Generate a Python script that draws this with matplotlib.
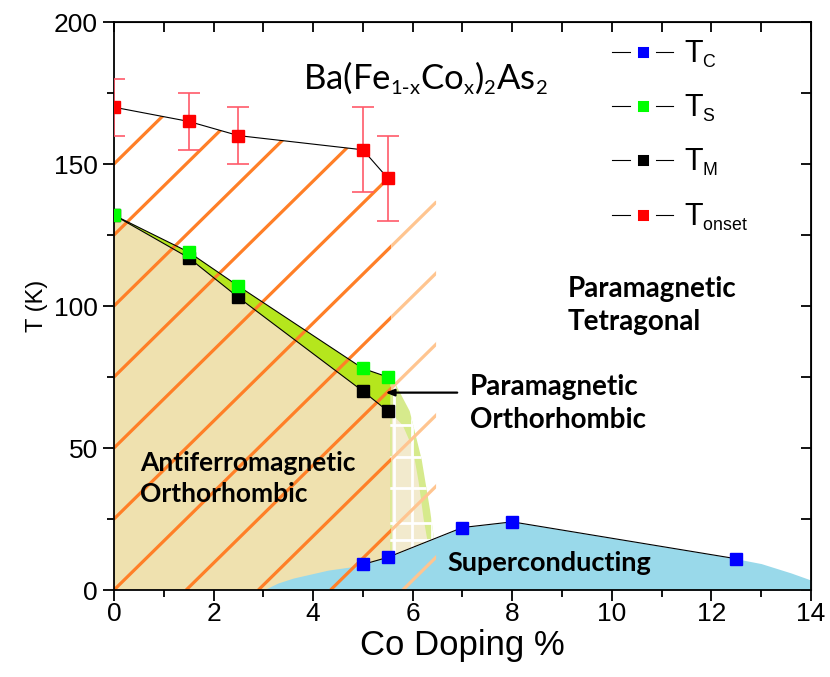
import numpy as np
import matplotlib
matplotlib.use('Agg')
import matplotlib.pyplot as plt
import matplotlib._mathtext as mathtext_mod
from matplotlib.patches import Polygon
from matplotlib.lines import Line2D

plt.rcParams['font.family'] = 'Liberation Sans'
plt.rcParams['mathtext.default'] = 'regular'
mathtext_mod.SHRINK_FACTOR = 0.58  # smaller subscripts, as in the original

# measured transition temperatures (K) vs Co doping (%)
x_onset = [0, 1.5, 2.5, 5, 5.5]
t_onset = [170, 165, 160, 155, 145]
err_onset = [10, 10, 10, 15, 15]

x_s = [0, 1.5, 2.5, 5, 5.5]
t_s = [132, 119, 107, 78, 75]

x_m = [0, 1.5, 2.5, 5, 5.5]
t_m = [132, 117, 103, 70, 63]

x_c = [5, 5.5, 7, 8, 12.5]
t_c = [9, 11.5, 22, 24, 11]

# outlines of the shaded regions
sc_left_x = [3.0, 3.3, 3.6, 4.3, 4.9]
sc_left_y = [0, 2.5, 4.2, 7, 8.5]
sc_right_x = [13.0, 13.6, 14.0]
sc_right_y = [9.3, 6.0, 3.5]

tail_x = [5.55, 5.64, 5.94, 6.18, 6.35, 6.42]
tail_y = [75, 73, 63, 46, 28, 19]
tail_inner_x = [5.58, 5.8, 6.0, 6.12, 6.22, 6.3]
tail_inner_y = [62, 58, 50, 38, 25, 17]
grid_vx = [5.62, 5.98, 6.38]
grid_hy = [58, 47, 36, 23.6, 17.6]

afm_edge = 5.57
light_edge = 6.47
light_top = 137

c_tan = '#EFE1AF'
c_green = '#B5E61D'
c_lgreen = '#D6EA8C'
c_ltan = '#F2EACD'
c_blue = '#99D9EA'
c_orange = '#FF7F27'
c_lorange = '#FFC590'

fig = plt.figure(figsize=(8.3, 6.77), dpi=100)
ax = fig.add_axes([0.1373, 0.1285, 0.8398, 0.839])
ax.set_xlim(0, 14)
ax.set_ylim(0, 200)

# antiferromagnetic orthorhombic
afm = list(zip(x_m, t_m)) + [(afm_edge, t_m[-1]), (afm_edge, 0), (0, 0)]
ax.add_patch(Polygon(afm, closed=True, fc=c_tan, ec='none', zorder=1))
# paramagnetic orthorhombic band
band = list(zip(x_s, t_s)) + [(afm_edge, t_s[-1]), (afm_edge, t_m[-1])] + list(zip(x_m[::-1], t_m[::-1]))
ax.add_patch(Polygon(band, closed=True, fc=c_green, ec='none', zorder=1))

# tail region right of the last sample
tc_line = lambda xx: np.interp(xx, x_c, t_c)
bx = np.linspace(tail_x[-1], tail_x[0], 10)
tail = list(zip(tail_x, tail_y)) + list(zip(bx, tc_line(bx)))
tail_patch = Polygon(tail, closed=True, fc=c_lgreen, ec='none', zorder=1.1)
ax.add_patch(tail_patch)
bx2 = np.linspace(tail_inner_x[-1], tail_inner_x[0], 10)
inner = list(zip(tail_inner_x, tail_inner_y)) + list(zip(bx2, tc_line(bx2)))
ax.add_patch(Polygon(inner, closed=True, fc=c_ltan, ec='none', zorder=1.15))
for gx in grid_vx:
    ln, = ax.plot([gx, gx], [0, 100], color='white', lw=2, zorder=1.2)
    ln.set_clip_path(tail_patch)
for gy in grid_hy:
    ln, = ax.plot([5.4, 6.6], [gy, gy], color='white', lw=2, zorder=1.2)
    ln.set_clip_path(tail_patch)

# superconducting dome
sc_x = [sc_left_x[0]] + sc_left_x + x_c + sc_right_x
sc_y = [0] + sc_left_y + t_c + sc_right_y
ax.fill_between(sc_x, sc_y, 0, color=c_blue, lw=0, zorder=1.3)

# diagonal hatching
dark_reg = [(0, 0)] + list(zip(x_onset, t_onset)) + [(afm_edge, t_onset[-1]), (afm_edge, 0)]
light_reg = [(afm_edge, 0), (afm_edge, t_onset[-1]), (light_edge, light_top), (light_edge, 0)]
dark_clip = Polygon(dark_reg, closed=True, fc='none', ec='none')
light_clip = Polygon(light_reg, closed=True, fc='none', ec='none')
ax.add_patch(dark_clip)
ax.add_patch(light_clip)
step = 1.45
slope = 25 / step
for k in range(-12, 8):
    x0 = k * step
    for clip, col in ((dark_clip, c_orange), (light_clip, c_lorange)):
        ln, = ax.plot([x0, x0 + 220 / slope], [0, 220], color=col, lw=2.3,
                      solid_capstyle='butt', zorder=2)
        ln.set_clip_path(clip)

# data
ax.errorbar(x_onset, t_onset, yerr=err_onset, fmt='none', ecolor='#FF5A6A',
            elinewidth=1.2, capsize=8, capthick=1.2, zorder=3)
ms = 9
cols = {'c': '#0000FF', 's': '#00FF00', 'm': 'k', 'o': '#FF0000'}
ax.plot(x_c, t_c, color='k', lw=0.8, marker='s', ms=ms, mfc=cols['c'], mec=cols['c'], zorder=4)
ax.plot(x_m, t_m, color='k', lw=0.8, marker='s', ms=ms, mfc=cols['m'], mec=cols['m'], zorder=4)
ax.plot(x_s, t_s, color='k', lw=0.8, marker='s', ms=ms, mfc=cols['s'], mec=cols['s'], zorder=4.1)
ax.plot(x_onset, t_onset, color='k', lw=0.8, marker='s', ms=ms, mfc=cols['o'], mec=cols['o'], zorder=4)

# legend handles: line - gap - marker - gap - line
handles = [Line2D([], [], color='k', lw=0.8, marker='s', ms=13, mfc=cols[k], mec='white', mew=5)
           for k in ('c', 's', 'm', 'o')]
leg = ax.legend(handles, [r'$T_C$', r'$T_S$', r'$T_M$', r'$T_{onset}$'],
                loc='upper left', bbox_to_anchor=(0.7145, 0.971), frameon=False,
                prop={'family': 'Liberation Sans', 'size': 22}, handlelength=2.0,
                handletextpad=0.35, labelspacing=0.76, borderpad=0, borderaxespad=0,
                numpoints=1)
leg.set_zorder(6)

# labels in the plot
ax.text(3.8, 180.5, r'Ba(Fe$_{1\text{-}x}$Co$_x$)$_2$As$_2$', family='Lato', fontsize=25,
        va='center', ha='left', zorder=6)
bold = dict(family='Lato', fontweight='bold', ha='left', va='center',
            linespacing=1.36, zorder=6)
ax.text(9.12, 100.2, 'Paramagnetic\nTetragonal', fontsize=20, **bold)
ax.text(7.15, 65.7, 'Paramagnetic\nOrthorhombic', fontsize=20, **bold)
ax.text(0.52, 39.4, 'Antiferromagnetic\nOrthorhombic', fontsize=19, **bold)
ax.text(6.69, 9.5, 'Superconducting', fontsize=19.5, **bold)
ax.annotate('', xy=(5.4, 69.5), xytext=(6.95, 69.5),
            arrowprops=dict(arrowstyle='-|>,head_length=0.5,head_width=0.2', color='k', lw=1.6),
            zorder=6)

# axes styling
ax.set_xlabel('Co Doping %', fontsize=25, labelpad=2)
ax.set_ylabel('T (K)', fontsize=17, labelpad=4)
ax.set_xticks(np.arange(0, 15, 2))
ax.set_xticks(np.arange(0, 15, 1), minor=True)
ax.set_yticks(np.arange(0, 201, 50))
ax.set_yticks(np.arange(0, 201, 25), minor=True)
ax.tick_params(which='major', direction='out', length=8, width=1.3, labelsize=19)
ax.tick_params(which='minor', direction='out', length=5, width=1.3)
ax.tick_params(axis='x', which='major', pad=0.5)
for s in ax.spines.values():
    s.set_linewidth(1.3)

top = ax.secondary_xaxis('top')
top.set_xticks(np.arange(0, 15, 2))
top.set_xticks(np.arange(0, 15, 1), minor=True)
top.tick_params(which='both', direction='in', length=7, width=1.3, labeltop=False)
right = ax.secondary_yaxis('right')
right.set_yticks(np.arange(0, 201, 50))
right.set_yticks(np.arange(0, 201, 25), minor=True)
right.tick_params(which='both', direction='in', length=7, width=1.3, labelright=False)

fig.savefig('out.png', dpi=100)
